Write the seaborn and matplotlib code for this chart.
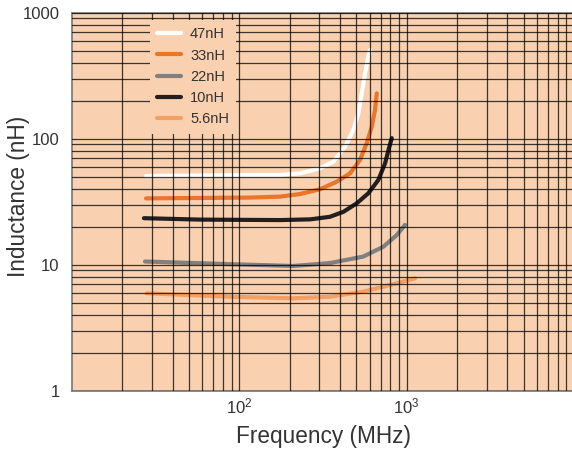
import numpy as np
import pandas as pd
import matplotlib
matplotlib.use("Agg")
import matplotlib.pyplot as plt
import seaborn as sns
from matplotlib.ticker import FixedLocator, FixedFormatter, NullFormatter

# Inductance vs. frequency for five chip inductors (log-log)
series_names = ["47nH", "33nH", "22nH", "10nH", "5.6nH"]

freq_47 = [27.7, 116, 175, 231, 304, 365, 428, 480, 514, 539, 564, 590, 604]
ind_47 = [50.6, 51.5, 51.5, 53.1, 58.2, 65.7, 86.4, 117, 159, 229, 330, 448, 506]

freq_33 = [27.7, 116, 175, 231, 304, 382, 459, 526, 577, 618, 647, 663]
ind_33 = [33.6, 34.1, 34.7, 36.4, 39.7, 45.6, 53.1, 67.8, 91.9, 124, 169, 229]

freq_22 = [27.3, 87.9, 210, 348, 550, 726, 873, 977]
ind_22 = [10.6, 10.1, 9.77, 10.3, 11.6, 13.9, 17.2, 20.7]

freq_10 = [26.9, 58.2, 175, 265, 348, 419, 503, 590, 677, 743, 788, 815]
ind_10 = [23.4, 22.8, 22.6, 22.9, 24.0, 26.3, 30.7, 36.9, 47.0, 63.8, 86.4, 101]

freq_5p6 = [28.0, 87.9, 210, 348, 550, 873, 1122]
ind_5p6 = [5.93, 5.57, 5.41, 5.57, 6.11, 7.11, 7.80]

y_ticks = [1, 10, 100, 1000]
y_tick_labels = ["1", "10", "100", "1000"]
x_ticks = [100, 1000]
x_tick_labels = [r"$10^{2}$", r"$10^{3}$"]

colors = ["#FFFFFF", "#E8762B", "#808080", "#231F20", "#F2A064"]
bg = "#F9D1B0"
text_col = "#333333"

frames = []
for name, f, l in zip(series_names,
                      [freq_47, freq_33, freq_22, freq_10, freq_5p6],
                      [ind_47, ind_33, ind_22, ind_10, ind_5p6]):
    frames.append(pd.DataFrame({"freq": f, "ind": l, "part": name}))
df = pd.concat(frames, ignore_index=True)

sns.set_style("white")
plt.rcParams["font.family"] = ["Liberation Sans", "DejaVu Sans"]
plt.rcParams["mathtext.fontset"] = "custom"
plt.rcParams["mathtext.rm"] = "Liberation Sans"
plt.rcParams["mathtext.it"] = "Liberation Sans:italic"

fig = plt.figure(figsize=(5.72, 4.54), dpi=100)
W, H = 572, 454
left, right, top, bottom = 72, 574, 12.7, 390.7
ax = fig.add_axes([left / W, (H - bottom) / H, (right - left) / W, (bottom - top) / H])
ax.set_facecolor(bg)

sns.lineplot(data=df, x="freq", y="ind", hue="part", hue_order=series_names,
             palette=colors, estimator=None, sort=False, lw=3.0, ax=ax)

ax.set_xscale("log")
ax.set_yscale("log")
ax.set_xlim(10, 10000)
ax.set_ylim(1, 1000)

ax.xaxis.set_major_locator(FixedLocator(x_ticks))
ax.xaxis.set_major_formatter(FixedFormatter(x_tick_labels))
x_minor = [m * 10 ** e for e in range(1, 4) for m in range(2, 10)]
ax.xaxis.set_minor_locator(FixedLocator(x_minor))
ax.xaxis.set_minor_formatter(NullFormatter())

ax.yaxis.set_major_locator(FixedLocator(y_ticks))
ax.yaxis.set_major_formatter(FixedFormatter(y_tick_labels))
y_minor = [m * 10 ** e for e in range(0, 3) for m in range(2, 10)]
ax.yaxis.set_minor_locator(FixedLocator(y_minor))
ax.yaxis.set_minor_formatter(NullFormatter())

ax.set_axisbelow(False)
ax.grid(which="both", color="black", lw=0.9, alpha=0.75)
ax.tick_params(which="both", length=0, labelsize=12, labelcolor=text_col)
ax.tick_params(axis="y", pad=9)
ax.tick_params(axis="x", pad=4)

for side in ["left", "bottom", "top"]:
    ax.spines[side].set_color("#7F7F7F")
    ax.spines[side].set_linewidth(1.3)
ax.spines["right"].set_visible(False)

ax.set_xlabel("Frequency (MHz)", fontsize=16.3, color=text_col, va="center")
ax.set_ylabel("Inductance (nH)", fontsize=16.3, color=text_col, va="center")
ax.xaxis.set_label_coords(323 / W, 1 - 437 / H, transform=fig.transFigure)
ax.yaxis.set_label_coords(19 / W, 1 - 196 / H, transform=fig.transFigure)

ax.legend(loc="upper left", bbox_to_anchor=(150 / W, 1 - 20 / H),
          bbox_transform=fig.transFigure, borderaxespad=0,
          fontsize=10.5, handlelength=1.65, handletextpad=0.6,
          borderpad=0.5, labelspacing=0.5, frameon=True,
          facecolor=bg, edgecolor="none", framealpha=1, fancybox=False,
          labelcolor=text_col, title=None)

fig.savefig("out.png", dpi=100, facecolor="white")
